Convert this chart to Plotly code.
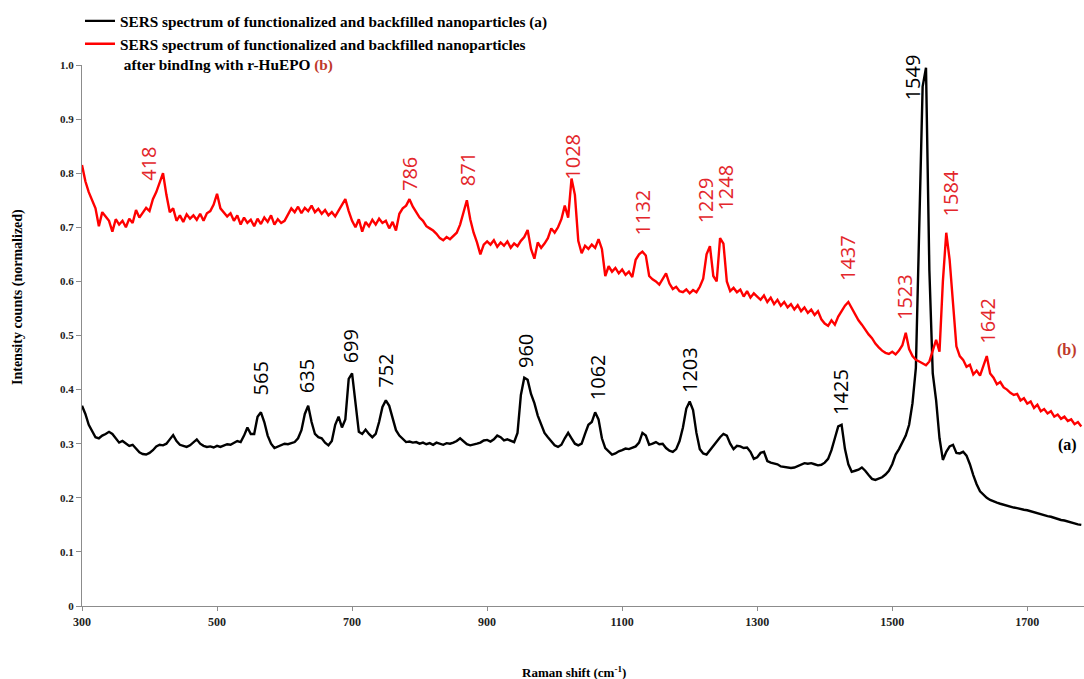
import plotly.graph_objects as go

# Raman shift grid (cm-1), step 5
raman_shift = list(range(300, 1781, 5))

# Spectrum (a): functionalized and backfilled nanoparticles
spec_a = [
    0.370, 0.355, 0.335, 0.322, 0.312, 0.310, 0.315, 0.318, 0.322, 0.318,  # 300
    0.310, 0.302, 0.305, 0.300, 0.296, 0.298, 0.290, 0.284, 0.281, 0.280,  # 350
    0.283, 0.288, 0.295, 0.298, 0.297, 0.300, 0.308, 0.316, 0.305, 0.298,  # 400
    0.296, 0.294, 0.297, 0.302, 0.308, 0.300, 0.296, 0.294, 0.295, 0.293,  # 450
    0.296, 0.294, 0.297, 0.299, 0.298, 0.302, 0.305, 0.303, 0.315, 0.330,  # 500
    0.318, 0.318, 0.350, 0.358, 0.340, 0.315, 0.300, 0.292, 0.295, 0.298,  # 550
    0.300, 0.299, 0.301, 0.303, 0.310, 0.325, 0.355, 0.370, 0.340, 0.318,  # 600
    0.312, 0.310, 0.302, 0.297, 0.305, 0.335, 0.350, 0.330, 0.345, 0.420,  # 650
    0.430, 0.370, 0.322, 0.318, 0.326, 0.318, 0.312, 0.318, 0.340, 0.368,  # 700
    0.380, 0.370, 0.345, 0.325, 0.315, 0.308, 0.303, 0.304, 0.302, 0.303,  # 750
    0.300, 0.302, 0.299, 0.301, 0.298, 0.302, 0.300, 0.298, 0.301, 0.300,  # 800
    0.302, 0.305, 0.310, 0.305, 0.299, 0.297, 0.298, 0.300, 0.302, 0.306,  # 850
    0.307, 0.304, 0.308, 0.315, 0.312, 0.306, 0.308, 0.305, 0.303, 0.320,  # 900
    0.390, 0.422, 0.418, 0.392, 0.375, 0.352, 0.335, 0.320, 0.312, 0.305,  # 950
    0.297, 0.294, 0.298, 0.310, 0.320, 0.310, 0.300, 0.297, 0.300, 0.318,  # 1000
    0.335, 0.340, 0.358, 0.345, 0.310, 0.292, 0.285, 0.280, 0.282, 0.286,  # 1050
    0.288, 0.291, 0.290, 0.293, 0.295, 0.302, 0.320, 0.315, 0.298, 0.300,  # 1100
    0.303, 0.299, 0.300, 0.292, 0.287, 0.285, 0.290, 0.305, 0.330, 0.365,  # 1150
    0.378, 0.362, 0.320, 0.290, 0.282, 0.280, 0.288, 0.298, 0.305, 0.312,  # 1200
    0.318, 0.315, 0.300, 0.290, 0.296, 0.295, 0.292, 0.293, 0.285, 0.272,  # 1250
    0.275, 0.283, 0.285, 0.268, 0.265, 0.264, 0.262, 0.258, 0.257, 0.255,  # 1300
    0.255, 0.256, 0.259, 0.262, 0.264, 0.263, 0.264, 0.262, 0.260, 0.261,  # 1350
    0.265, 0.272, 0.288, 0.310, 0.332, 0.335, 0.290, 0.262, 0.248, 0.250,  # 1400
    0.252, 0.256, 0.250, 0.242, 0.235, 0.233, 0.235, 0.238, 0.243, 0.250,  # 1450
    0.262, 0.280, 0.290, 0.302, 0.315, 0.335, 0.375, 0.440, 0.700, 0.960,  # 1500
    0.995, 0.620, 0.430, 0.380, 0.310, 0.270, 0.285, 0.295, 0.298, 0.283,  # 1550
    0.282, 0.285, 0.278, 0.262, 0.242, 0.225, 0.212, 0.205, 0.200, 0.196,  # 1600
    0.193, 0.191, 0.189, 0.187, 0.186, 0.184, 0.182, 0.181, 0.179, 0.178,  # 1650
    0.177, 0.175, 0.174, 0.172, 0.170, 0.168, 0.166, 0.165, 0.163, 0.160,  # 1700
    0.159, 0.158, 0.156, 0.155, 0.153, 0.151, 0.150,                       # 1750
]

# Spectrum (b): after binding with r-HuEPO
spec_b = [
    0.815, 0.785, 0.765, 0.748, 0.735, 0.702, 0.728, 0.720, 0.712, 0.692,  # 300
    0.715, 0.705, 0.712, 0.700, 0.716, 0.708, 0.732, 0.718, 0.728, 0.736,  # 350
    0.730, 0.752, 0.765, 0.782, 0.800, 0.760, 0.728, 0.735, 0.712, 0.722,  # 400
    0.710, 0.724, 0.716, 0.722, 0.714, 0.725, 0.712, 0.726, 0.730, 0.742,  # 450
    0.762, 0.735, 0.728, 0.720, 0.726, 0.712, 0.722, 0.705, 0.718, 0.708,  # 500
    0.714, 0.702, 0.716, 0.706, 0.718, 0.710, 0.722, 0.705, 0.715, 0.708,  # 550
    0.712, 0.725, 0.735, 0.728, 0.738, 0.726, 0.736, 0.730, 0.740, 0.728,  # 600
    0.734, 0.725, 0.732, 0.722, 0.728, 0.720, 0.730, 0.742, 0.752, 0.730,  # 650
    0.712, 0.700, 0.715, 0.692, 0.710, 0.702, 0.714, 0.705, 0.716, 0.708,  # 700
    0.712, 0.698, 0.710, 0.694, 0.725, 0.735, 0.740, 0.752, 0.738, 0.728,  # 750
    0.718, 0.712, 0.702, 0.698, 0.694, 0.688, 0.680, 0.676, 0.682, 0.678,  # 800
    0.684, 0.690, 0.705, 0.730, 0.750, 0.715, 0.690, 0.672, 0.650, 0.668,  # 850
    0.674, 0.668, 0.676, 0.664, 0.672, 0.666, 0.674, 0.662, 0.670, 0.665,  # 900
    0.675, 0.682, 0.695, 0.660, 0.642, 0.672, 0.662, 0.670, 0.680, 0.698,  # 950
    0.690, 0.700, 0.715, 0.740, 0.718, 0.790, 0.760, 0.675, 0.652, 0.666,  # 1000
    0.660, 0.668, 0.662, 0.678, 0.660, 0.610, 0.628, 0.618, 0.625, 0.615,  # 1050
    0.622, 0.612, 0.618, 0.608, 0.640, 0.650, 0.655, 0.648, 0.610, 0.604,  # 1100
    0.600, 0.594, 0.605, 0.615, 0.596, 0.586, 0.590, 0.582, 0.580, 0.585,  # 1150
    0.578, 0.584, 0.580, 0.590, 0.605, 0.650, 0.665, 0.610, 0.600, 0.680,  # 1200
    0.670, 0.600, 0.582, 0.588, 0.580, 0.585, 0.572, 0.582, 0.570, 0.578,  # 1250
    0.572, 0.566, 0.574, 0.562, 0.570, 0.558, 0.566, 0.555, 0.562, 0.552,  # 1300
    0.558, 0.548, 0.556, 0.545, 0.552, 0.542, 0.548, 0.538, 0.545, 0.530,  # 1350
    0.522, 0.518, 0.528, 0.520, 0.535, 0.545, 0.555, 0.562, 0.550, 0.540,  # 1400
    0.528, 0.520, 0.510, 0.502, 0.495, 0.485, 0.478, 0.472, 0.468, 0.466,  # 1450
    0.470, 0.465, 0.472, 0.482, 0.505, 0.475, 0.462, 0.455, 0.452, 0.448,  # 1500
    0.445, 0.452, 0.470, 0.492, 0.470, 0.600, 0.690, 0.640, 0.560, 0.480,  # 1550
    0.462, 0.455, 0.442, 0.446, 0.428, 0.435, 0.426, 0.445, 0.462, 0.430,  # 1600
    0.422, 0.410, 0.414, 0.404, 0.400, 0.394, 0.390, 0.392, 0.380, 0.384,  # 1650
    0.374, 0.378, 0.366, 0.372, 0.360, 0.364, 0.356, 0.360, 0.350, 0.354,  # 1700
    0.346, 0.350, 0.342, 0.345, 0.336, 0.340, 0.332,                       # 1750
]

# Peak labels
peaks_a_text = ["565", "635", "699", "752", "960", "1062", "1203", "1425", "1549"]
peaks_a_x = [564, 632, 697, 749, 956, 1063, 1199, 1423, 1530]
peaks_a_y = [0.386, 0.390, 0.445, 0.400, 0.436, 0.377, 0.390, 0.350, 0.930]

peaks_b_text = ["418", "786", "871", "1028", "1132", "1229", "1248", "1437", "1523", "1584", "1642"]
peaks_b_x = [399, 784, 870, 1027, 1130, 1223, 1253, 1433, 1519, 1586, 1641]
peaks_b_y = [0.782, 0.763, 0.772, 0.784, 0.682, 0.704, 0.728, 0.597, 0.525, 0.717, 0.482]

x_ticks = [300, 500, 700, 900, 1100, 1300, 1500, 1700]
y_ticks = [0, 0.1, 0.2, 0.3, 0.4, 0.5, 0.6, 0.7, 0.8, 0.9, 1.0]
y_tick_text = ["0", "0.1", "0.2", "0.3", "0.4", "0.5", "0.6", "0.7", "0.8", "0.9", "1.0"]

RED = "#ff0000"
LABEL_RED = "#e3262b"
DARK_RED = "#c0392b"
SERIF = "Liberation Serif"

fig = go.Figure()
fig.add_trace(go.Scatter(
    x=raman_shift, y=spec_a, mode="lines",
    line=dict(color="black", width=2.4),
    name="SERS spectrum of functionalized and backfilled nanoparticles (a)",
))
fig.add_trace(go.Scatter(
    x=raman_shift, y=spec_b, mode="lines",
    line=dict(color=RED, width=2.4),
    name=("SERS spectrum of functionalized and backfilled nanoparticles<br>"
          " after bindIng with r-HuEPO <span style='color:%s'>(b)</span>" % DARK_RED),
))

annotations = []
for t, xv, yv in zip(peaks_a_text, peaks_a_x, peaks_a_y):
    annotations.append(dict(x=xv, y=yv, text=t, textangle=-90, showarrow=False,
                            xanchor="center", yanchor="bottom",
                            font=dict(family="Open Sans", size=20, color="black")))
for t, xv, yv in zip(peaks_b_text, peaks_b_x, peaks_b_y):
    annotations.append(dict(x=xv, y=yv, text=t, textangle=-90, showarrow=False,
                            xanchor="center", yanchor="bottom",
                            font=dict(family="Open Sans", size=20, color=LABEL_RED)))

annotations += [
    dict(xref="paper", yref="paper", x=0.995, y=(606 - 350) / 541, text="(b)",
         showarrow=False, xanchor="right", yanchor="middle",
         font=dict(family=SERIF, size=16, color=DARK_RED, weight="bold")),
    dict(xref="paper", yref="paper", x=0.995, y=(606 - 445) / 541, text="(a)",
         showarrow=False, xanchor="right", yanchor="middle",
         font=dict(family=SERIF, size=16, color="black", weight="bold")),
    dict(xref="paper", yref="paper", x=(574 - 82) / 1002, y=-(672 - 606) / 541,
         text="Raman shift (cm<sup>-1</sup>)", showarrow=False,
         xanchor="center", yanchor="middle",
         font=dict(family=SERIF, size=13, color="black", weight="bold")),
    dict(xref="paper", yref="paper", x=-(82 - 18) / 1002, y=(606 - 297) / 541,
         text="Intensity counts (normalized)", textangle=-90, showarrow=False,
         xanchor="center", yanchor="middle",
         font=dict(family=SERIF, size=14, color="black", weight="bold")),
]

fig.update_layout(
    width=1084, height=679,
    margin=dict(l=82, r=0, t=65, b=73),
    paper_bgcolor="white", plot_bgcolor="white",
    showlegend=True,
    legend=dict(x=-0.002, y=1.112, xanchor="left", yanchor="top",
                bgcolor="rgba(0,0,0,0)", valign="top", tracegroupgap=0,
                font=dict(family=SERIF, size=15.3, color="black", weight="bold")),
    annotations=annotations,
)
fig.update_xaxes(range=[300, 1784], tickvals=x_ticks, showgrid=False, zeroline=False,
                 showline=True, linecolor="#8c8c8c", linewidth=1.2,
                 ticks="outside", ticklen=4, tickcolor="#8c8c8c",
                 tickfont=dict(family=SERIF, size=12, color="#222", weight="bold"))
fig.update_yaxes(range=[0, 1.0], tickvals=y_ticks, ticktext=y_tick_text,
                 showgrid=False, zeroline=False,
                 showline=True, linecolor="#8c8c8c", linewidth=1.2,
                 ticks="outside", ticklen=5, tickcolor="#8c8c8c",
                 tickfont=dict(family=SERIF, size=11, color="#222", weight="bold"))

fig.write_html("out.html")
